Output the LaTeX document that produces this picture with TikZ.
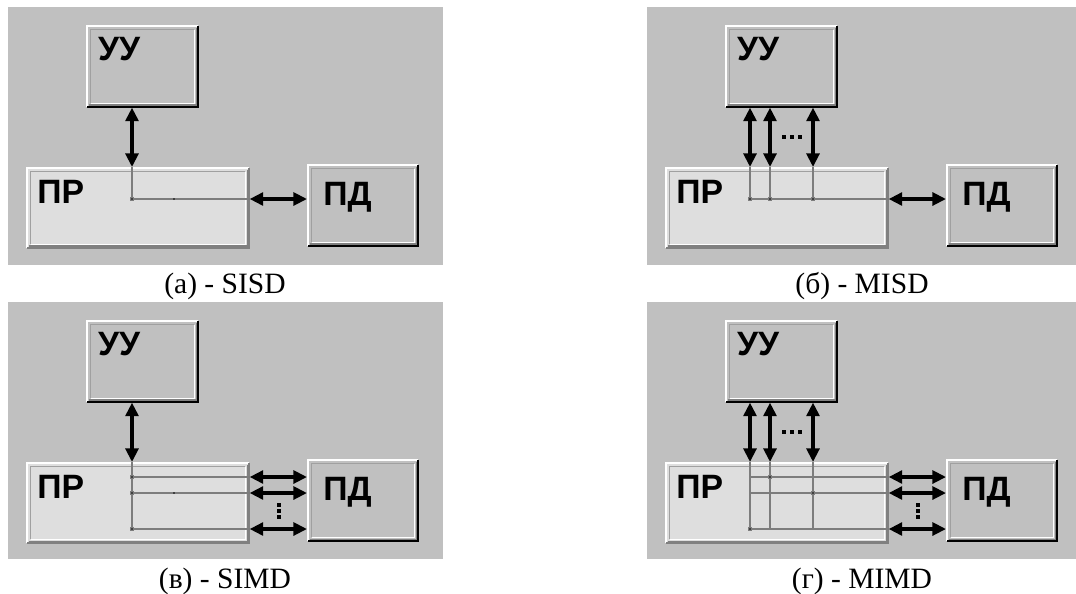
\documentclass[tikz,border=0pt]{standalone}
\usepackage{fontspec}
\setmainfont{Liberation Serif}
\newfontfamily\boxfont{Liberation Sans}
\usetikzlibrary{positioning, arrows.meta, calc}
\definecolor{PanelGray}{RGB}{192,192,192}
\definecolor{RegFill}{RGB}{222,222,222}
\definecolor{EdgeDark}{RGB}{128,128,128}
\definecolor{EdgeMid}{RGB}{160,160,160}
\definecolor{WireGray}{RGB}{125,125,125}

% raised Windows-style frame round a box node
\newcommand{\bevel}[2]{%
  \draw[white, line width=1.4pt] ([xshift=0.7pt, yshift=0.7pt]#1.south west) |- ([xshift=-0.7pt, yshift=-0.7pt]#1.north east);
  \draw[#2, line width=1.4pt] ([xshift=0.7pt, yshift=0.7pt]#1.south west) -| ([xshift=-0.7pt, yshift=-0.7pt]#1.north east);
  \draw[EdgeDark, line width=0.8pt] ([xshift=1.8pt, yshift=1.8pt]#1.south west) -| ([xshift=-1.8pt, yshift=-1.8pt]#1.north east);
  \draw[EdgeMid, line width=0.7pt] ([xshift=3.2pt, yshift=3.2pt]#1.south west) |- ([xshift=-3.2pt, yshift=-3.2pt]#1.north east);
  \draw[white, line width=0.7pt] ([xshift=3.2pt, yshift=3.2pt]#1.south west) -| ([xshift=-3.2pt, yshift=-3.2pt]#1.north east);
}

\tikzset{
  panel/.style={fill=PanelGray, draw=none},
  unitbox/.style={rectangle, fill=PanelGray, draw=none, anchor=north west, inner sep=0pt},
  uubox/.style={unitbox, minimum width=2.8cm, minimum height=2.05cm},
  prbox/.style={unitbox, fill=RegFill, minimum width=5.575cm, minimum height=2.025cm},
  pdbox/.style={unitbox, minimum width=2.775cm, minimum height=2.05cm},
  boxlabel/.style={font=\boxfont\bfseries\fontsize{24}{24}\selectfont, inner sep=0pt, anchor=north west},
  bus/.style={{Triangle[length=3.4mm, width=3.2mm]}-{Triangle[length=3.4mm, width=3.2mm]}, line width=3.1pt},
  wire/.style={draw=WireGray, line width=0.75pt},
  junction/.style={rectangle, fill=black!75, draw=WireGray, line width=0.4pt, inner sep=0pt, minimum size=2.2pt},
  tick/.style={circle, fill=black, inner sep=0pt, minimum size=1.4pt},
  dotmark/.style={rectangle, fill=black, inner sep=0pt, minimum size=2.8pt},
  caption/.style={font=\fontsize{21}{21}\selectfont, anchor=base}
}

\begin{document}
\begin{tikzpicture}[x=0.025cm, y=-0.025cm]
  \useasboundingbox (0,0) rectangle (1076,593);

  % grey backgrounds of the four panels
  \fill[panel] (8,7) rectangle (443,265);
  \fill[panel] (647,7) rectangle (1076,265);
  \fill[panel] (8,302) rectangle (443,559);
  \fill[panel] (647,302) rectangle (1076,559);

  % (a) SISD
  \begin{scope}
    \node[uubox, label={[boxlabel, xshift=8.5pt, yshift=-8.5pt]north west:УУ}] (uuA) at (86,25) {};
    \node[prbox, label={[boxlabel, xshift=7.8pt, yshift=-9.2pt]north west:ПР}] (prA) at (26,167) {};
    \node[pdbox, label={[boxlabel, xshift=11.4pt, yshift=-12.8pt]north west:ПД}] (pdA) at (307,164) {};
    \bevel{uuA}{black} \bevel{prA}{EdgeDark} \bevel{pdA}{black}
    \coordinate (tapA) at (132,199);
    \draw[wire] (prA.north -| tapA) -- (tapA) -- (prA.east |- tapA);
    \node[junction] (jA) at (tapA) {};
    \node[tick] (tA) at (174,199) {};
    \draw[bus] (uuA.south -| tapA) -- (prA.north -| tapA);
    \draw[bus] (prA.east |- tapA) -- (pdA.west |- tapA);
  \end{scope}

  % (b) MISD
  \begin{scope}[shift={(639,0)}]
    \node[uubox, label={[boxlabel, xshift=8.5pt, yshift=-8.5pt]north west:УУ}] (uuB) at (86,25) {};
    \node[prbox, label={[boxlabel, xshift=7.8pt, yshift=-9.2pt]north west:ПР}] (prB) at (26,167) {};
    \node[pdbox, label={[boxlabel, xshift=11.4pt, yshift=-12.8pt]north west:ПД}] (pdB) at (307,164) {};
    \bevel{uuB}{black} \bevel{prB}{EdgeDark} \bevel{pdB}{black}
    \coordinate (tapB1) at (111,199);
    \coordinate (tapB2) at (131,199);
    \coordinate (tapB3) at (174,199);
    \draw[wire] (tapB1) -- (prB.east |- tapB1);
    \foreach \t in {1,2,3} {
      \draw[wire] (prB.north -| tapB\t) -- (tapB\t);
      \node[junction] (jB\t) at (tapB\t) {};
      \draw[bus] (uuB.south -| tapB\t) -- (prB.north -| tapB\t);
    }
    \foreach \d in {145,153,161} \node[dotmark] (dB\d) at (\d,137) {};
    \draw[bus] (prB.east |- tapB1) -- (pdB.west |- tapB1);
  \end{scope}

  % (c) SIMD
  \begin{scope}[shift={(0,295)}]
    \node[uubox, label={[boxlabel, xshift=8.5pt, yshift=-8.5pt]north west:УУ}] (uuC) at (86,25) {};
    \node[prbox, label={[boxlabel, xshift=7.8pt, yshift=-9.2pt]north west:ПР}] (prC) at (26,167) {};
    \node[pdbox, label={[boxlabel, xshift=11.4pt, yshift=-12.8pt]north west:ПД}] (pdC) at (307,164) {};
    \bevel{uuC}{black} \bevel{prC}{EdgeDark} \bevel{pdC}{black}
    \coordinate (rowC1) at (132,182);
    \coordinate (rowC2) at (132,198);
    \coordinate (rowC3) at (132,234);
    \draw[wire] (prC.north -| rowC1) -- (rowC3);
    \foreach \r in {1,2,3} {
      \draw[wire] (rowC\r) -- (prC.east |- rowC\r);
      \node[junction] (jC\r) at (rowC\r) {};
      \draw[bus] (prC.east |- rowC\r) -- (pdC.west |- rowC\r);
    }
    \node[tick] (tC) at (174,198) {};
    \draw[bus] (uuC.south -| rowC1) -- (prC.north -| rowC1);
    \foreach \d in {210,216,222} \node[dotmark] (dC\d) at (279,\d) {};
  \end{scope}

  % (d) MIMD
  \begin{scope}[shift={(639,295)}]
    \node[uubox, label={[boxlabel, xshift=8.5pt, yshift=-8.5pt]north west:УУ}] (uuD) at (86,25) {};
    \node[prbox, label={[boxlabel, xshift=7.8pt, yshift=-9.2pt]north west:ПР}] (prD) at (26,167) {};
    \node[pdbox, label={[boxlabel, xshift=11.4pt, yshift=-12.8pt]north west:ПД}] (pdD) at (307,164) {};
    \bevel{uuD}{black} \bevel{prD}{EdgeDark} \bevel{pdD}{black}
    \coordinate (colD1) at (111,234);
    \coordinate (colD2) at (131,182);
    \coordinate (colD3) at (174,198);
    \foreach \c in {1,2,3} {
      \draw[wire] (prD.north -| colD\c) -- (colD\c |- colD1);
      \draw[bus] (uuD.south -| colD\c) -- (prD.north -| colD\c);
    }
    \foreach \c in {1,2,3} {
      \draw[wire] (colD1 |- colD\c) -- (prD.east |- colD\c);
      \node[junction] (jD\c) at (colD\c) {};
      \draw[bus] (prD.east |- colD\c) -- (pdD.west |- colD\c);
    }
    \foreach \d in {145,153,161} \node[dotmark] (dD\d) at (\d,137) {};
    \foreach \d in {210,216,222} \node[dotmark] (eD\d) at (279,\d) {};
  \end{scope}

  % captions
  \node[caption] (capA) at (225,293) {(а) - SISD};
  \node[caption] (capB) at (862,293) {(б) - MISD};
  \node[caption] (capC) at (225,588) {(в) - SIMD};
  \node[caption] (capD) at (862,588) {(г) - MIMD};
\end{tikzpicture}
\end{document}
